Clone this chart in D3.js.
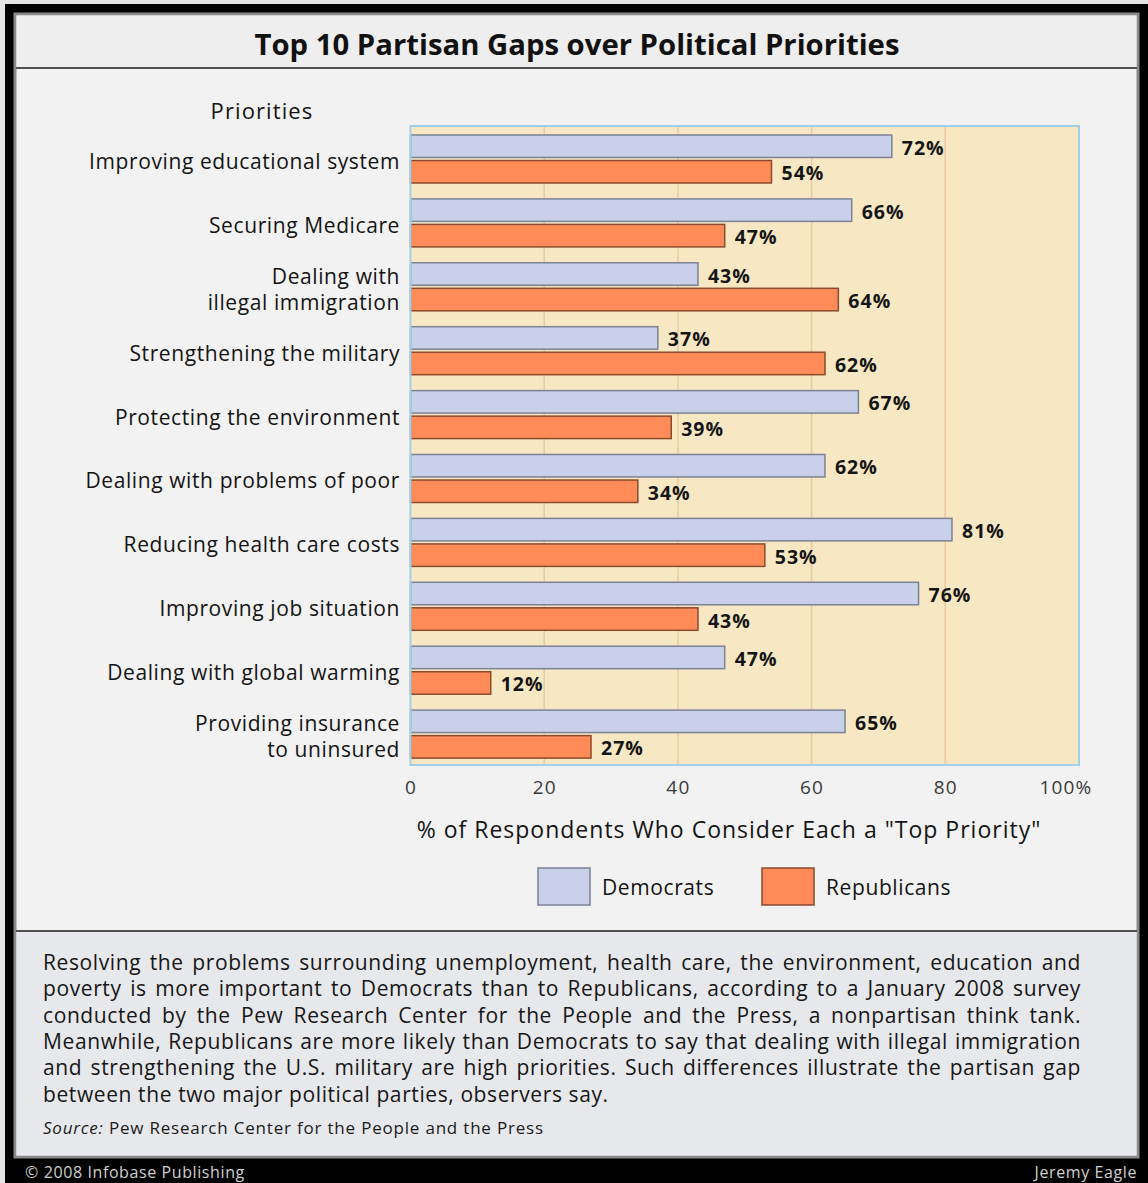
<!DOCTYPE html>
<html>
<head>
<meta charset="utf-8">
<script src="https://cdn.jsdelivr.net/npm/d3@7"></script>
<style>
  html, body { margin: 0; padding: 0; background: #e4e4e4; }
  svg { display: block; }
  text { font-family: "Open Sans", "Noto Sans", sans-serif; }
</style>
</head>
<body>
<svg id="chart" width="1148" height="1183"></svg>
<script>
// Share of respondents naming each issue a "top priority", January 2008
const categories = [
  "Improving educational system",
  "Securing Medicare",
  "Dealing with\nillegal immigration",
  "Strengthening the military",
  "Protecting the environment",
  "Dealing with problems of poor",
  "Reducing health care costs",
  "Improving job situation",
  "Dealing with global warming",
  "Providing insurance\nto uninsured"
];
const democrats   = [72, 66, 43, 37, 67, 62, 81, 76, 47, 65];
const republicans = [54, 47, 64, 62, 39, 34, 53, 43, 12, 27];
const seriesNames = ["Democrats", "Republicans"];
const tickValues  = [0, 20, 40, 60, 80, 100];

const titleText = "Top 10 Partisan Gaps over Political Priorities";
const axisTitle = "% of Respondents Who Consider Each a \"Top Priority\"";
const paragraph = [
  "Resolving the problems surrounding unemployment, health care, the environment, education and",
  "poverty is more important to Democrats than to Republicans, according to a January 2008 survey",
  "conducted by the Pew Research Center for the People and the Press, a nonpartisan think tank.",
  "Meanwhile, Republicans are more likely than Democrats to say that dealing with illegal immigration",
  "and strengthening the U.S. military are high priorities. Such differences illustrate the partisan gap",
  "between the two major political parties, observers say."
];
const sourceLabel = "Source:";
const sourceText = " Pew Research Center for the People and the Press";
const creditLeft = "\u00A9 2008 Infobase Publishing";
const creditRight = "Jeremy Eagle";

const colors = { Democrats: "#c9d0ea", Republicans: "#ff8b59" };
const strokes = { Democrats: "#7c8197", Republicans: "#8a4a2c" };

const svg = d3.select("#chart");

// ---- frame ----
svg.append("rect").attr("x", 5).attr("y", 4).attr("width", 1143).attr("height", 1179).attr("fill", "#000");
svg.append("rect").attr("x", 15).attr("y", 14).attr("width", 1123).attr("height", 1143)
  .attr("fill", "#f2f2f2").attr("stroke", "#8a8a8a").attr("stroke-width", 3);
svg.append("rect").attr("x", 16.5).attr("y", 15.5).attr("width", 1120).attr("height", 52)
  .attr("fill", "#eeeeee");
svg.append("line").attr("x1", 16).attr("x2", 1137).attr("y1", 68).attr("y2", 68)
  .attr("stroke", "#505050").attr("stroke-width", 2);

svg.append("text").attr("x", 577).attr("y", 43).attr("text-anchor", "middle")
  .attr("dominant-baseline", "central")
  .attr("textLength", 645).attr("lengthAdjust", "spacingAndGlyphs")
  .style("font-weight", "bold").style("font-size", "29px").attr("fill", "#111")
  .text(titleText);

// ---- plot ----
const x = d3.scaleLinear().domain([0, 100]).range([410.5, 1079]);
const y0 = d3.scaleBand().domain(categories).range([126, 765]).padding(0);
const y1 = d3.scaleBand().domain(seriesNames).range([9, 57]).paddingInner(0.12);

const plot = svg.append("g");
plot.append("rect").attr("x", x(0)).attr("y", 126).attr("width", x(100) - x(0)).attr("height", 639)
  .attr("fill", "#f7e8c3");
plot.selectAll("line.grid").data(tickValues.slice(1, -1)).join("line")
  .attr("class", "grid")
  .attr("x1", d => x(d)).attr("x2", d => x(d)).attr("y1", 126).attr("y2", 765)
  .attr("stroke", "#ebc9a2").attr("stroke-width", 1.5);

const rows = categories.map((c, i) => ({ c, vals: [
  { s: "Democrats", v: democrats[i] }, { s: "Republicans", v: republicans[i] }
]}));

const grp = plot.selectAll("g.row").data(rows).join("g").attr("class", "row")
  .attr("transform", d => `translate(0,${y0(d.c)})`);
grp.selectAll("rect").data(d => d.vals).join("rect")
  .attr("x", x(0)).attr("y", d => y1(d.s))
  .attr("width", d => x(d.v) - x(0)).attr("height", y1.bandwidth())
  .attr("fill", d => colors[d.s]).attr("stroke", d => strokes[d.s]).attr("stroke-width", 1.5);
grp.selectAll("text").data(d => d.vals).join("text")
  .attr("x", d => x(d.v) + 10).attr("y", d => y1(d.s) + y1.bandwidth() / 2 + 1)
  .attr("dominant-baseline", "central")
  .style("font-weight", "bold").style("font-size", "19.5px").style("letter-spacing", "1px")
  .attr("fill", "#151515")
  .text(d => d.v + "%");

plot.append("rect").attr("x", x(0)).attr("y", 126).attr("width", x(100) - x(0)).attr("height", 639)
  .attr("fill", "none").attr("stroke", "#9fd0e6").attr("stroke-width", 2);

// category labels
const catG = svg.selectAll("text.cat").data(categories).join("text").attr("class", "cat")
  .attr("text-anchor", "end").style("font-size", "21px").style("letter-spacing", "0.6px")
  .attr("fill", "#141414");
catG.each(function(c) {
  const lines = c.split("\n");
  const cy = y0(c) + y0.bandwidth() / 2 + 3;
  d3.select(this).selectAll("tspan").data(lines).join("tspan")
    .attr("x", 400)
    .attr("y", (l, i) => cy + (i - (lines.length - 1) / 2) * 25.5)
    .attr("dominant-baseline", "central")
    .text(l => l);
});

svg.append("text").attr("x", 262).attr("y", 110).attr("text-anchor", "middle")
  .attr("dominant-baseline", "central").style("font-size", "22px").style("letter-spacing", "1.1px")
  .attr("fill", "#141414")
  .text("Priorities");

// x axis
const axis = svg.append("g").attr("transform", "translate(0,775)")
  .call(d3.axisBottom(x).tickValues(tickValues).tickSize(0).tickPadding(5)
    .tickFormat(d => d === 100 ? "100%" : d));
axis.select(".domain").remove();
axis.selectAll("text").style("font-family", "'Open Sans', sans-serif")
  .style("font-size", "19px").style("letter-spacing", "1.2px").attr("fill", "#3a3a3a");
axis.selectAll(".tick").filter(d => d === 100).select("text")
  .attr("text-anchor", "end").attr("dx", 13);

svg.append("text").attr("x", 729).attr("y", 829).attr("text-anchor", "middle")
  .attr("dominant-baseline", "central").style("font-size", "23px").style("letter-spacing", "1px")
  .attr("fill", "#141414")
  .text(axisTitle);

// legend
const legendX = [538, 762];
const leg = svg.selectAll("g.leg").data(seriesNames).join("g").attr("class", "leg")
  .attr("transform", (d, i) => `translate(${legendX[i]},868)`);
leg.append("rect").attr("width", 52).attr("height", 37)
  .attr("fill", d => colors[d]).attr("stroke", d => strokes[d]).attr("stroke-width", 1.5);
leg.append("text").attr("x", 64).attr("y", 19).attr("dominant-baseline", "central")
  .style("font-size", "21px").style("letter-spacing", "0.6px")
  .attr("fill", "#141414").text(d => d);

// ---- note box ----
svg.append("rect").attr("x", 16.5).attr("y", 931).attr("width", 1120).attr("height", 224.5)
  .attr("fill", "#e6e8ec");
svg.append("line").attr("x1", 16).attr("x2", 1137).attr("y1", 931).attr("y2", 931)
  .attr("stroke", "#505050").attr("stroke-width", 2);

const textLeft = 43, textRight = 1081;
paragraph.forEach((line, i) => {
  const t = svg.append("text").attr("x", textLeft).attr("y", 962 + i * 26.3)
    .attr("dominant-baseline", "central").style("font-size", "21px").style("letter-spacing", "0.6px")
    .attr("fill", "#161616")
    .text(line);
  if (i < paragraph.length - 1) {
    const natural = t.node().getComputedTextLength();
    const spaces = (line.match(/ /g) || []).length;
    t.style("word-spacing", ((textRight - textLeft - natural) / spaces) + "px");
  }
});

const src = svg.append("text").attr("x", textLeft).attr("y", 1127)
  .attr("dominant-baseline", "central").style("font-size", "17px").style("letter-spacing", "0.8px")
  .attr("fill", "#1a1a1a");
src.append("tspan").style("font-style", "italic").text(sourceLabel);
src.append("tspan").text(sourceText);

// credits
svg.append("text").attr("x", 25).attr("y", 1172).attr("dominant-baseline", "central")
  .style("font-size", "16px").style("letter-spacing", "0.6px").attr("fill", "#cfcfcf").text(creditLeft);
svg.append("text").attr("x", 1137).attr("y", 1172).attr("text-anchor", "end")
  .attr("dominant-baseline", "central")
  .style("font-size", "16px").style("letter-spacing", "0.6px").attr("fill", "#cfcfcf").text(creditRight);
</script>
</body>
</html>
